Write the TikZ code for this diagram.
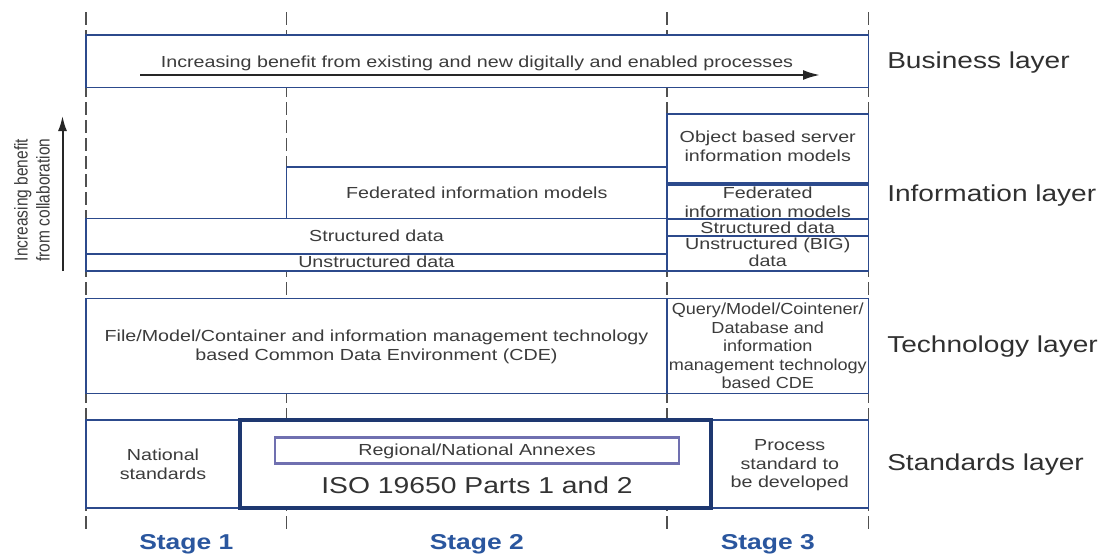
\documentclass[tikz,border=0pt]{standalone}
\usepackage{fontspec}
\setmainfont{Liberation Sans}
\usetikzlibrary{arrows.meta}

\definecolor{boxblue}{RGB}{44,74,140}
\definecolor{isoblue}{RGB}{30,56,112}
\definecolor{annexblue}{RGB}{112,112,176}
\definecolor{txtgray}{RGB}{60,60,60}
\definecolor{labelgray}{RGB}{48,48,48}
\definecolor{stageblue}{RGB}{42,86,158}
\definecolor{guidegray}{RGB}{80,80,80}

\begin{document}
\begin{tikzpicture}[x=1pt,y=-1pt,
  guide/.style={draw=guidegray, line width=1.1pt, dash pattern=on 13pt off 5pt},
  box/.style={draw=boxblue, line width=1.6pt, fill=white, inner sep=0pt, outer sep=0pt,
              anchor=north west, rectangle},
  isobox/.style={box, draw=isoblue, line width=3.5pt},
  annexbox/.style={box, draw=annexblue, line width=2.4pt},
  plaintxt/.style={text=txtgray, font=\fontsize{16}{18.5}\selectfont,
                   align=center, inner sep=0pt},
  txt/.style={plaintxt, xscale=1.23},
  narrowtxt/.style={plaintxt, xscale=1.13},
  layer/.style={text=labelgray, font=\fontsize{23}{27}\selectfont, xscale=1.22,
                anchor=base west, inner sep=0pt},
  stage/.style={text=stageblue, font=\bfseries\fontsize{21.5}{25}\selectfont, xscale=1.23,
                anchor=base, inner sep=0pt},
  bigarrow/.style={draw=black!85, line width=2.2pt, -{Latex[length=17pt,width=10pt]}},
]
\useasboundingbox (0,0) rectangle (1108,554);

% stage boundaries
\coordinate (g0t) at (86,12);    \coordinate (g0b) at (86,533);
\coordinate (g1t) at (286.5,12); \coordinate (g1b) at (286.5,533);
\coordinate (g2t) at (667,12);   \coordinate (g2b) at (667,533);
\coordinate (g3t) at (868.5,12); \coordinate (g3b) at (868.5,533);
\foreach \g in {0,1,2,3} \draw[guide] (g\g t) -- (g\g b);

% business layer
\node[box, minimum width=782.5pt, minimum height=52.3pt] (bus) at (86,35) {};
\node[txt] (busT) at (477,63) {Increasing benefit from existing and new digitally and enabled processes};
\coordinate (busA) at (140,75);
\coordinate (busB) at (820,75);
\draw[bigarrow] (busA) -- (busB);

% information layer, stages 1-2
\node[box, minimum width=380.5pt, minimum height=51.6pt] (fedL) at (286.5,166.7) {};
\node[box, minimum width=581pt, minimum height=35.7pt] (strL) at (86,218.3) {};
\node[box, minimum width=581pt, minimum height=17pt] (unsL) at (86,254) {};
\node[txt] (fedLT) at (fedL.center) {Federated information models};
\node[txt] (strLT) at (strL.center) {Structured data};
\node[txt] (unsLT) at ([yshift=0.5pt]unsL.center) {Unstructured data};

% information layer, stage 3
\node[box, minimum width=201.5pt, minimum height=69pt] (obj) at (667,114) {};
\node[box, minimum width=201.5pt, minimum height=34.2pt] (fedR) at (667,184.8) {};
\node[box, minimum width=201.5pt, minimum height=17pt] (strR) at (667,219) {};
\node[box, minimum width=201.5pt, minimum height=35pt] (unsR) at (667,236) {};
\node[txt] (objT) at ([yshift=2pt]obj.center) {Object based server\\information models};
\node[txt, font=\fontsize{16}{19}\selectfont] (fedRT) at (fedR.center) {Federated\\information models};
\node[txt] (strRT) at (strR.center) {Structured data};
\node[txt, font=\fontsize{16}{17.3}\selectfont] (unsRT) at ([yshift=1pt]unsR.center) {Unstructured (BIG)\\data};

% collaboration axis
\coordinate (colA) at (62.5,271);
\coordinate (colB) at (62.5,116);
\draw[bigarrow, line width=2pt, -{Latex[length=15pt,width=9pt]}] (colA) -- (colB);
\node[plaintxt, font=\fontsize{15.5}{18.5}\selectfont, xscale=1.2, rotate=90] (colT) at (32,200)
  {Increasing benefit\\from collaboration};

% technology layer
\node[box, minimum width=581pt, minimum height=95pt] (tecL) at (86,298.3) {};
\node[box, line width=1.3pt, minimum width=201.5pt, minimum height=95pt] (tecR) at (667,298.3) {};
\node[txt, font=\fontsize{16}{19}\selectfont] (tecLT) at ([yshift=-1pt]tecL.center)
  {File/Model/Container and information management technology\\based Common Data Environment (CDE)};
\node[narrowtxt] (tecRT) at (tecR.center)
  {Query/Model/Cointener/\\Database and\\information\\management technology\\based CDE};

% standards layer
\node[box, minimum width=154pt, minimum height=88pt] (nat) at (86,420) {};
\node[box, minimum width=157.5pt, minimum height=88pt] (proc) at (711,420) {};
\node[isobox, minimum width=471pt, minimum height=88pt] (iso) at (240,420) {};
\node[annexbox, minimum width=404pt, minimum height=26pt] (ann) at (275,437.3) {};
\node[txt] (natT) at ([yshift=-0.5pt]nat.center) {National\\standards};
\node[txt] (procT) at ([yshift=-1.5pt]proc.center) {Process\\standard to\\be developed};
\node[txt] (annT) at ([yshift=-1pt]ann.center) {Regional/National Annexes};
\node[txt, text=black!80, font=\fontsize{23}{27}\selectfont] (isoT) at (477,485.7) {ISO 19650 Parts 1 and 2};

% layer labels
\node[layer] (lBus) at (887,68.5) {Business layer};
\node[layer] (lInf) at (887,201.7) {Information layer};
\node[layer] (lTec) at (887,352.7) {Technology layer};
\node[layer] (lStd) at (887,470) {Standards layer};

% stage labels
\node[stage] (s1) at (186.3,549.3) {Stage 1};
\node[stage] (s2) at (476.8,549.3) {Stage 2};
\node[stage] (s3) at (767.8,549.3) {Stage 3};
\end{tikzpicture}
\end{document}
